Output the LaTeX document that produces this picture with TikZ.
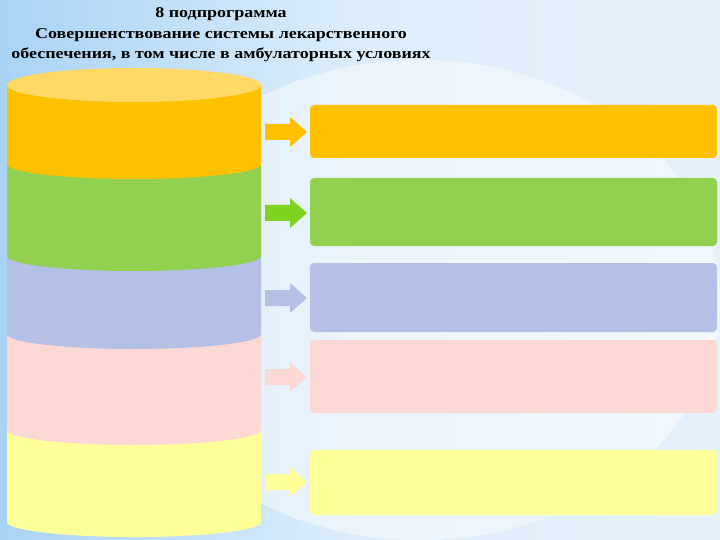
\documentclass[tikz,border=0pt]{standalone}
\usepackage{fontspec}
\setmainfont{Liberation Serif}
\usepackage{graphicx}
\definecolor{cor}{HTML}{FFC000}
\definecolor{cort}{HTML}{FFD966}
\definecolor{cgr}{HTML}{92D050}
\definecolor{cgra}{HTML}{7ED321}
\definecolor{cbl}{HTML}{B4C0E6}
\definecolor{cpk}{HTML}{FCD8D4}
\definecolor{cye}{HTML}{FFFF99}
\definecolor{bgb}{HTML}{A9D3F5}
\begin{document}
\begin{tikzpicture}[x=1pt,y=-1pt,
  box/.style={rounded corners=4pt,draw=none}]
\useasboundingbox (0,0) rectangle (720,540);
\shade[left color=bgb,right color=white!70!bgb,middle color=white!60!bgb] (0,0) rectangle (720,540);
\fill[white,opacity=0.45] (420,300) ellipse (300 and 240);
% cylinder segments, bottom first
\def\seg#1#2#3{\fill[#1] (7,#2) -- (261,#2) -- (261,#3) arc[start angle=0,end angle=180,x radius=127,y radius=15] -- cycle;}
\seg{cye}{428}{522}
\seg{cpk}{333}{430}
\seg{cbl}{255}{334}
\seg{cgr}{165}{256}
\seg{cor}{85}{164}
\fill[cort] (134,85) ellipse (127 and 17);
% arrows
\def\arrw#1#2#3{\fill[#2] (265,#3-8) -- (290,#3-8) -- (290,#3-15) -- (307,#3) -- (290,#3+15) -- (290,#3+8) -- (265,#3+8) -- cycle; \coordinate (#1) at (286,#3);}
\arrw{a1}{cor}{132}
\arrw{a2}{cgra}{213}
\arrw{a3}{cbl}{298}
\arrw{a4}{cpk}{377}
\arrw{a5}{cye}{482}
% boxes
\fill[box,cor] (310,105) rectangle (717,158);
\fill[box,cgr] (310,178) rectangle (717,246);
\fill[box,cbl] (310,263) rectangle (717,332);
\fill[box,cpk] (310,340) rectangle (717,413);
\fill[box,cye] (310,450) rectangle (717,515);
\node[font=\bfseries\fontsize{15}{20.5}\selectfont,align=center] (t) at (221,35) {\scalebox{1.2}[1]{8 подпрограмма}\\\scalebox{1.2}[1]{Совершенствование системы лекарственного}\\\scalebox{1.2}[1]{обеспечения, в том числе в амбулаторных условиях}};
\end{tikzpicture}
\end{document}
